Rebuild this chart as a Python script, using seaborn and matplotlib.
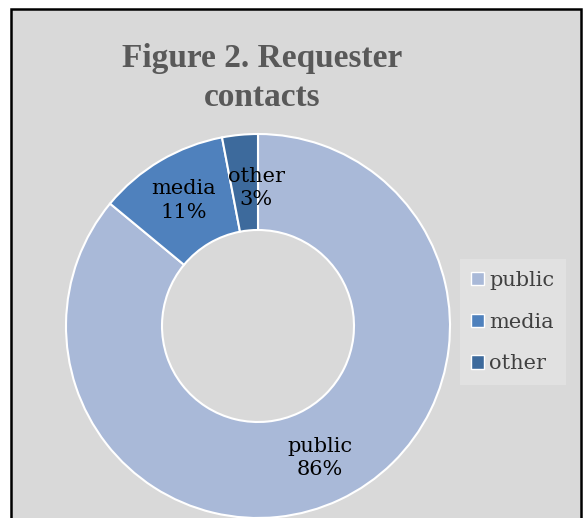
import numpy as np
import matplotlib
matplotlib.use("Agg")
import matplotlib.pyplot as plt
import seaborn as sns
from matplotlib.patches import Rectangle, Patch

sns.set_theme(style="white")

categories = ["public", "media", "other"]
values = [86, 11, 3]
pct_labels = ["86%", "11%", "3%"]
colors = ["#a9b9d8", "#4f81bd", "#3d6a9c"]
title = "Figure 2. Requester\ncontacts"

W, H = 584, 518
fig = plt.figure(figsize=(W / 100, H / 100), dpi=100)
fig.patch.set_facecolor("white")

# chart area background with border (bottom edge lies outside the image)
fig.patches.append(Rectangle((11 / W, -0.05), (581 - 11) / W, (H - 9) / H + 0.05,
                             transform=fig.transFigure, facecolor="#d9d9d9",
                             edgecolor="black", linewidth=1.8, zorder=-5))

cx, cy, R = 258, 326, 192
ax = fig.add_axes([(cx - R) / W, (H - cy - R) / H, 2 * R / W, 2 * R / H])
ax.set_zorder(2)
ax.patch.set_alpha(0)
wedges, _ = ax.pie(values, colors=colors, startangle=90, counterclock=False,
                   radius=1.0,
                   wedgeprops=dict(width=0.5, edgecolor="white", linewidth=1.5))
for w in wedges:
    w.set_clip_on(False)
ax.set_xlim(-1, 1)
ax.set_ylim(-1, 1)
ax.set_aspect("equal")
ax.axis("off")

label_font = "DejaVu Serif"
total = sum(values)
cum = 0
for i, (cat, v, p) in enumerate(zip(categories, values, pct_labels)):
    mid = cum + v / 2
    cum += v
    ang = np.deg2rad(90 - 360 * mid / total)
    r = 0.76
    x, y = r * np.cos(ang), r * np.sin(ang)
    if cat == "other":
        x = -0.01
        y = 0.72
    ax.text(x, y, f"{cat}\n{p}", ha="center", va="center", fontsize=15,
            family=label_font, color="black", linespacing=1.3)

fig.text(262 / W, 1 - 78 / H, title, ha="center", va="center",
         fontsize=24, fontweight="bold", family="Liberation Serif",
         color="#595959", linespacing=1.3)

handles = [Patch(facecolor=c, edgecolor="white", linewidth=1.0) for c in colors]
leg = fig.legend(handles, categories, loc="center left",
                 bbox_to_anchor=(460 / W, 1 - 322 / H), borderaxespad=0,
                 frameon=True, prop={"family": label_font, "size": 15},
                 handlelength=0.6, handleheight=0.6, handletextpad=0.25,
                 labelspacing=1.1, borderpad=0.55, fancybox=False)
leg.get_frame().set_facecolor("#e4e4e4")
leg.get_frame().set_edgecolor("none")
leg.set_zorder(3)
for t in leg.get_texts():
    t.set_color("#404040")

fig.savefig("out.png", dpi=100, facecolor=fig.get_facecolor())
